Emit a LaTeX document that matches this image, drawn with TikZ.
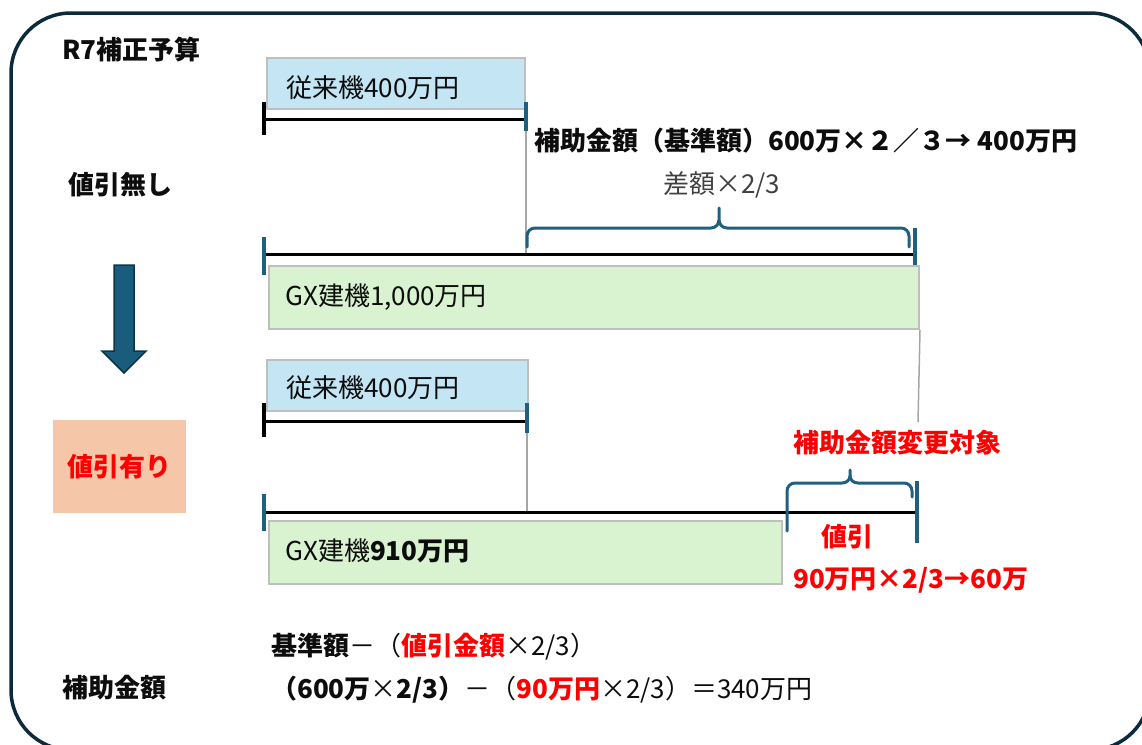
\documentclass[tikz,border=0pt]{standalone}
\usepackage{fontspec}
\setmainfont{Noto Sans CJK JP}
\definecolor{frame}{RGB}{12,42,60}
\definecolor{tickblue}{RGB}{31,95,128}
\definecolor{arrowfill}{RGB}{26,92,124}
\definecolor{arrowline}{RGB}{12,52,74}
\definecolor{boxgray}{RGB}{191,191,191}
\definecolor{guidegray}{RGB}{166,166,166}
\definecolor{lightblue}{HTML}{C3E5F4}
\definecolor{lightgreen}{HTML}{D9F2D0}
\definecolor{peach}{HTML}{F5C6A8}
\definecolor{txtred}{RGB}{255,0,0}
\definecolor{txtblack}{RGB}{13,13,13}
\definecolor{txtgray}{RGB}{64,64,64}
\newcommand{\fsz}{\fontsize{26}{30}\selectfont}
\tikzset{
  txt/.style={anchor=west, inner sep=0pt, font=\fsz, text=txtblack},
  btxt/.style={txt, font=\fsz\bfseries},
  rtxt/.style={txt, font=\fsz\bfseries, text=txtred},
  bluebox/.style={draw=boxgray, line width=2pt, fill=lightblue, anchor=north west, inner sep=0pt},
  greenbox/.style={draw=boxgray, line width=2pt, fill=lightgreen, anchor=north west, inner sep=0pt},
  blackline/.style={draw=black, line width=3pt},
  blacktick/.style={draw=black, line width=3.5pt},
  bluetick/.style={draw=tickblue, line width=3.5pt},
  guide/.style={draw=guidegray, line width=1.5pt},
  bracestyle/.style={draw=tickblue, line width=3pt, line cap=round, line join=round},
}
\begin{document}
\begin{tikzpicture}[x=1pt, y=-1pt]
\useasboundingbox (0,0) rectangle (1142,744);
% outer frame
\draw[frame, line width=3.5pt, rounded corners=60pt] (11,13) rectangle (1150,750);

% left labels
\node[btxt] (r7) at (62,50) {R7補正予算};
\node[btxt] (nodisc) at (68,185) {値引無し};
\node[btxt] (hojo) at (62,688) {補助金額};

% down arrow
\draw[fill=arrowfill, draw=arrowline, line width=1.5pt]
  (114,265) -- (134,265) -- (134,351) -- (146,351) -- (124,373) -- (102,351) -- (114,351) -- cycle;

% discount box
\node[fill=peach, minimum width=133pt, minimum height=93pt, anchor=north west, inner sep=0pt] (discbox) at (53,420) {};
\node[rtxt, anchor=center] (disclabel) at (discbox.center) {値引有り};

% ===== upper part =====
\node[bluebox, minimum width=258pt, minimum height=51pt] (old1) at (266,57) {};
\node[txt] (old1t) at (286,88) {従来機400万円};

\coordinate (a1) at (264,119);
\coordinate (a2) at (526,119);
\draw[blackline] (a1) -- (a2);
\coordinate (a1t) at (264,102); \coordinate (a1b) at (264,135);
\draw[blacktick] (a1t) -- (a1b);
\coordinate (a2t) at (526,102); \coordinate (a2b) at (526,131);
\draw[bluetick] (a2t) -- (a2b);

\node[btxt] (title) at (534,141) {補助金額（基準額）600万×２／３→ 400万円};
\node[txt, text=txtgray] (diff) at (663,185) {差額×2/3};

\coordinate (b1) at (264,254);
\coordinate (b2) at (915,254);
\coordinate (g1) at (526,254);
\draw[guide] (a2b) -- (g1);
\draw[blackline] (b1) -- (b2);
\coordinate (b1t) at (264,237); \coordinate (b1b) at (264,275);
\draw[bluetick] (b1t) -- (b1b);
\coordinate (b2t) at (915,228); \coordinate (b2b) at (915,267);
\draw[bluetick] (b2t) -- (b2b);

% brace 1
\coordinate (br1l) at (527,247);
\coordinate (br1m) at (719,208);
\coordinate (br1r) at (909,247);
\draw[bracestyle] (br1l) -- (527,236) to[out=90,in=180] (535,228) -- (711,228) to[out=0,in=270] (719,220) -- (br1m);
\draw[bracestyle] (719,220) to[out=270,in=180] (727,228) -- (901,228) to[out=0,in=90] (909,236) -- (br1r);

\node[greenbox, minimum width=650pt, minimum height=63pt] (gx1) at (268,265) {};
\node[txt] (gx1t) at (285,297) {GX建機1,000万円};

\coordinate (g2) at (918,422);
\draw[guide] (gx1.south east) -- (g2);

% ===== lower part =====
\node[bluebox, minimum width=261pt, minimum height=51pt] (old2) at (266,359) {};
\node[txt] (old2t) at (286,388) {従来機400万円};

\coordinate (c1) at (264,421);
\coordinate (c2) at (527,421);
\draw[blackline] (c1) -- (c2);
\coordinate (c1t) at (264,403); \coordinate (c1b) at (264,437);
\draw[blacktick] (c1t) -- (c1b);
\coordinate (c2t) at (527,403); \coordinate (c2b) at (527,433);
\draw[bluetick] (c2t) -- (c2b);

\coordinate (d1) at (264,512);
\coordinate (d2) at (917,512);
\coordinate (g3) at (527,512);
\draw[guide] (c2b) -- (g3);
\draw[blackline] (d1) -- (d2);
\coordinate (d1t) at (264,494); \coordinate (d1b) at (264,531);
\draw[bluetick] (d1t) -- (d1b);
\coordinate (d2t) at (917,481); \coordinate (d2b) at (917,543);
\draw[bluetick] (d2t) -- (d2b);

\node[rtxt] (change) at (793,443) {補助金額変更対象};

% brace 2
\coordinate (br2l) at (787,531);
\coordinate (br2m) at (850,470);
\coordinate (br2r) at (912,497);
\draw[bracestyle] (br2l) -- (787,491) to[out=90,in=180] (795,483) -- (842,483) to[out=0,in=270] (850,476) -- (br2m);
\draw[bracestyle] (850,476) to[out=270,in=180] (858,483) -- (904,483) to[out=0,in=90] (912,491) -- (br2r);

\node[greenbox, minimum width=513pt, minimum height=63pt] (gx2) at (268,520) {};
\node[txt] (gx2t) at (285,551) {GX建機\textbf{910万円}};

\node[rtxt, anchor=center] (disc) at (847,537) {値引};
\node[rtxt] (disccalc) at (793,580) {90万円×2/3→60万};

% formula
\node[txt] (f1) at (271,647) {\textbf{基準額}－（\textcolor{txtred}{\textbf{値引金額}}×2/3）};
\node[txt] (f2) at (271,690) {\textbf{（600万}×\textbf{2/3）}－（\textcolor{txtred}{\textbf{90万円}}×2/3）＝340万円};
\end{tikzpicture}
\end{document}
